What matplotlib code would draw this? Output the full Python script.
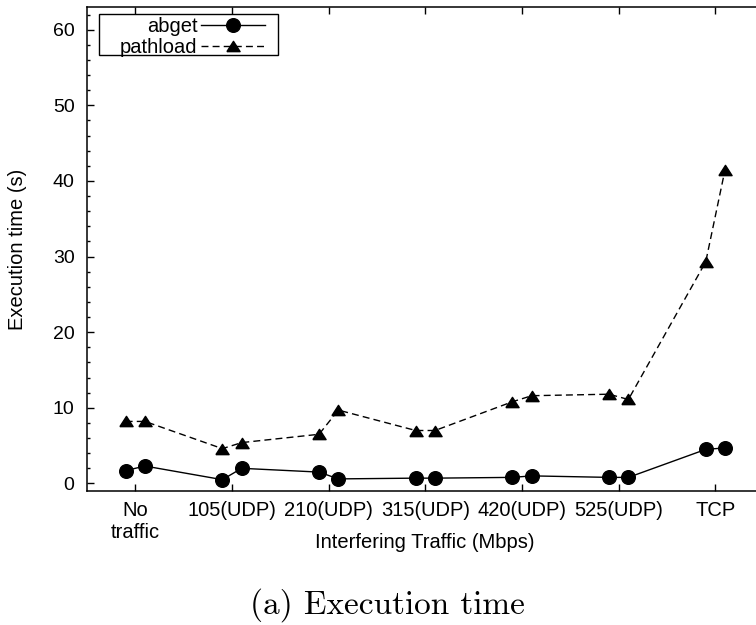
import numpy as np
import matplotlib
matplotlib.use("Agg")
import matplotlib.pyplot as plt
from matplotlib.ticker import MultipleLocator
from matplotlib.patches import Rectangle

categories = ["No\ntraffic", "105(UDP)", "210(UDP)", "315(UDP)", "420(UDP)", "525(UDP)", "TCP"]
abget_run1 = [1.7, 0.5, 1.5, 0.7, 0.8, 0.8, 4.5]
abget_run2 = [2.3, 2.0, 0.6, 0.7, 1.0, 0.8, 4.7]
pathload_run1 = [8.2, 4.6, 6.5, 7.0, 10.8, 11.8, 29.3]
pathload_run2 = [8.2, 5.4, 9.7, 7.0, 11.6, 11.1, 41.5]
y_ticks = [0, 10, 20, 30, 40, 50, 60]

plt.rcParams['font.family'] = ['Liberation Sans', 'DejaVu Sans']

fig = plt.figure(figsize=(7.56, 6.25), dpi=100)
ax = fig.add_axes([87 / 756, 134 / 625, 1 - 87 / 756, 484 / 625])

base = np.arange(1, len(categories) + 1)
off = 0.1
xs = np.ravel(np.column_stack([base - off, base + off]))
ab = np.ravel(np.column_stack([abget_run1, abget_run2]))
pl = np.ravel(np.column_stack([pathload_run1, pathload_run2]))

tri = [(-1, -0.78), (1, -0.78), (0, 0.78), (-1, -0.78)]

ax.plot(xs, ab, color='black', lw=1.0, marker='o', markersize=9.8,
        label='abget')
ax.plot(xs, pl, color='black', lw=1.0, linestyle=(0, (5, 3)), marker=tri,
        markersize=9.5, label='pathload')

ax.set_xlim(0.5, 7.42)
ax.set_ylim(-1, 63)
ax.set_xticks(base)
ax.set_xticklabels(categories)
ax.set_yticks(y_ticks)
ax.yaxis.set_minor_locator(MultipleLocator(2))

ax.tick_params(axis='x', which='major', direction='in', length=5, width=1,
               top=True, bottom=True, labelsize=14.5, pad=7)
ax.tick_params(axis='y', which='major', direction='in', length=5, width=1,
               left=True, right=False, labelsize=14, pad=9)
ax.tick_params(axis='y', which='minor', direction='in', length=2.5, width=1,
               left=True, right=False)
ax.tick_params(axis='x', which='minor', bottom=False, top=False)

for s in ['left', 'bottom', 'top']:
    ax.spines[s].set_linewidth(1.1)
ax.spines['right'].set_visible(False)

ax.set_xlabel("Interfering Traffic (Mbps)", fontsize=14.5)
ax.set_ylabel("Execution time (s)", fontsize=14.5)
ax.xaxis.set_label_coords(0.505, -0.087)
ax.yaxis.set_label_coords(-0.089, 0.5)

leg = ax.legend(loc='upper right', bbox_to_anchor=(0.266, 0.979),
                borderaxespad=0, markerfirst=False, fontsize=14.5,
                handlelength=3.2, handletextpad=0.15, labelspacing=0.1,
                borderpad=0, frameon=False)
ax.add_patch(Rectangle((0.018, 0.9008), 0.2675, 0.0847, transform=ax.transAxes,
                       fill=False, edgecolor='black', lw=1.0, zorder=5))

fig.text(387 / 756, 11 / 625, "(a) Execution time", family='cmr10',
         fontsize=24, ha='center', va='baseline')

fig.savefig("out.png", dpi=100)
